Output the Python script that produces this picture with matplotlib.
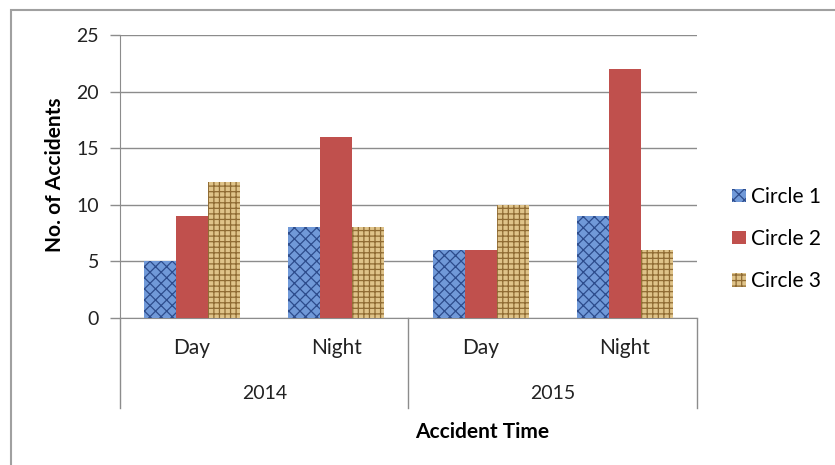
import matplotlib.pyplot as plt
import matplotlib.transforms as mtransforms
from matplotlib.patches import Rectangle
import numpy as np

plt.rcParams['font.family'] = ['Lato', 'DejaVu Sans']

years = ['2014', '2015']
times = ['Day', 'Night', 'Day', 'Night']
circle1 = [5, 8, 6, 9]
circle2 = [9, 16, 6, 22]
circle3 = [12, 8, 10, 6]
series_names = ['Circle 1', 'Circle 2', 'Circle 3']

grid_col = '#8c8c8c'
txt_col = '#222222'
fig = plt.figure(figsize=(8.35, 4.65), dpi=100)
ax = fig.add_axes([0.1437, 0.3161, 0.6910, 0.6086])

x = np.arange(len(times))
w = 0.222
plt.rcParams['hatch.linewidth'] = 0.9
b1 = ax.bar(x - w, circle1, w, color='#7099d8', edgecolor='#2d4c8c', hatch='xxx', linewidth=0, zorder=3)
b2 = ax.bar(x, circle2, w, color='#c0504d', linewidth=0, zorder=3)
b3 = ax.bar(x + w, circle3, w, color='#dfc389', edgecolor='#8f6b33', hatch='+++', linewidth=0, zorder=3)

ax.set_xlim(-0.5, 3.5)
ax.set_ylim(0, 25)
ax.set_yticks(range(0, 26, 5))
ax.yaxis.grid(True, color=grid_col, linewidth=1)
ax.set_axisbelow(True)
ax.tick_params(axis='y', length=7, color=grid_col, width=1, pad=8, labelsize=14, labelcolor=txt_col)
ax.set_xticks([])
for s in ['top', 'right']:
    ax.spines[s].set_visible(False)
ax.spines['left'].set_color(grid_col)
ax.spines['bottom'].set_color(grid_col)

# two-level category axis
trans = mtransforms.blended_transform_factory(ax.transData, ax.transAxes)
for xs in [-0.5, 1.5, 3.5]:
    ax.plot([xs, xs], [0, -0.318], color=grid_col, lw=1, transform=trans, clip_on=False)
for i, t in enumerate(times):
    ax.text(i, -0.105, t, transform=trans, ha='center', va='center', fontsize=15, color=txt_col)
for j, yr in enumerate(years):
    ax.text(2 * j + 0.5, -0.265, yr, transform=trans, ha='center', va='center', fontsize=14, color=txt_col)

# axis titles
fig.text(482 / 835, 1 - 432 / 465, 'Accident Time', ha='center', va='center',
         fontsize=15, fontweight='bold')
fig.text(55 / 835, 1 - 175 / 465, 'No. of Accidents', rotation=90, ha='center', va='center',
         fontsize=15, fontweight='bold')

handles = [b1[0], b2[0], b3[0]]
fig.legend(handles, series_names, loc='center left', bbox_to_anchor=(0.8766, 0.486),
           frameon=False, fontsize=15, handlelength=0.65, handleheight=0.6,
           handletextpad=0.27, labelspacing=1.07, borderpad=0, borderaxespad=0)

# outer chart border
fig.add_artist(Rectangle((11 / 835, -0.1), 1.2, 1 - 10 / 465 + 0.1, transform=fig.transFigure,
                         fill=False, edgecolor='#a0a0a0', linewidth=1.5))

fig.savefig('out.png', dpi=100)
